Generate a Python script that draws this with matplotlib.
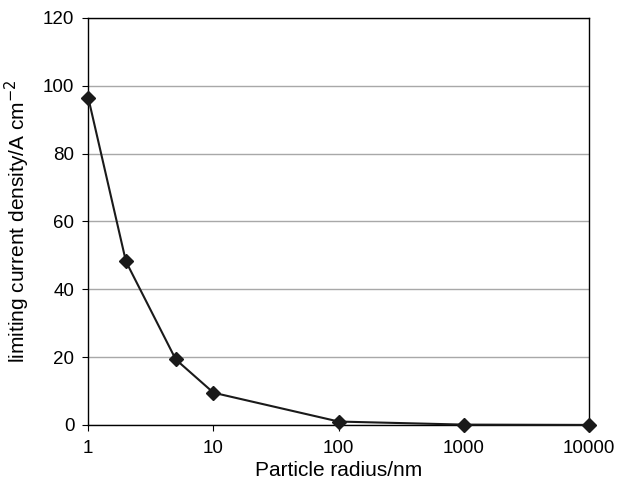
import matplotlib.pyplot as plt

radius_nm = [1, 2, 5, 10, 100, 1000, 10000]
current_density = [96.5, 48.2, 19.3, 9.5, 1.0, 0.1, 0.01]
x_ticks = [1, 10, 100, 1000, 10000]
y_ticks = [0, 20, 40, 60, 80, 100, 120]

plt.rcParams["font.family"] = ["Liberation Sans", "DejaVu Sans"]

fig = plt.figure(figsize=(6.17, 4.84), dpi=100)
ax = fig.add_axes([0.143, 0.122, 0.812, 0.841])

line, = ax.plot(radius_nm, current_density, color="#1a1a1a", lw=1.5,
                marker="D", ms=7, mfc="#1a1a1a", mec="#1a1a1a", zorder=3)
line.set_clip_on(False)

ax.set_xscale("log")
ax.set_xlim(1, 10000)
ax.set_ylim(0, 120)
ax.set_xticks(x_ticks)
ax.set_xticklabels([str(t) for t in x_ticks])
ax.xaxis.set_minor_locator(plt.NullLocator())
ax.set_yticks(y_ticks)
ax.yaxis.grid(True, color="#a8a8a8", lw=1)
ax.set_axisbelow(True)
ax.tick_params(axis="both", direction="out", length=4, labelsize=13.5, color="black")
ax.tick_params(axis="x", pad=7)
ax.tick_params(axis="y", pad=6)

for s in ax.spines.values():
    s.set_color("black")
    s.set_linewidth(1)

ax.set_xlabel("Particle radius/nm", fontsize=15, labelpad=3)
ax.set_ylabel(r"limiting current density/A cm$^{-2}$", fontsize=15, labelpad=8)

fig.savefig("out.png")
